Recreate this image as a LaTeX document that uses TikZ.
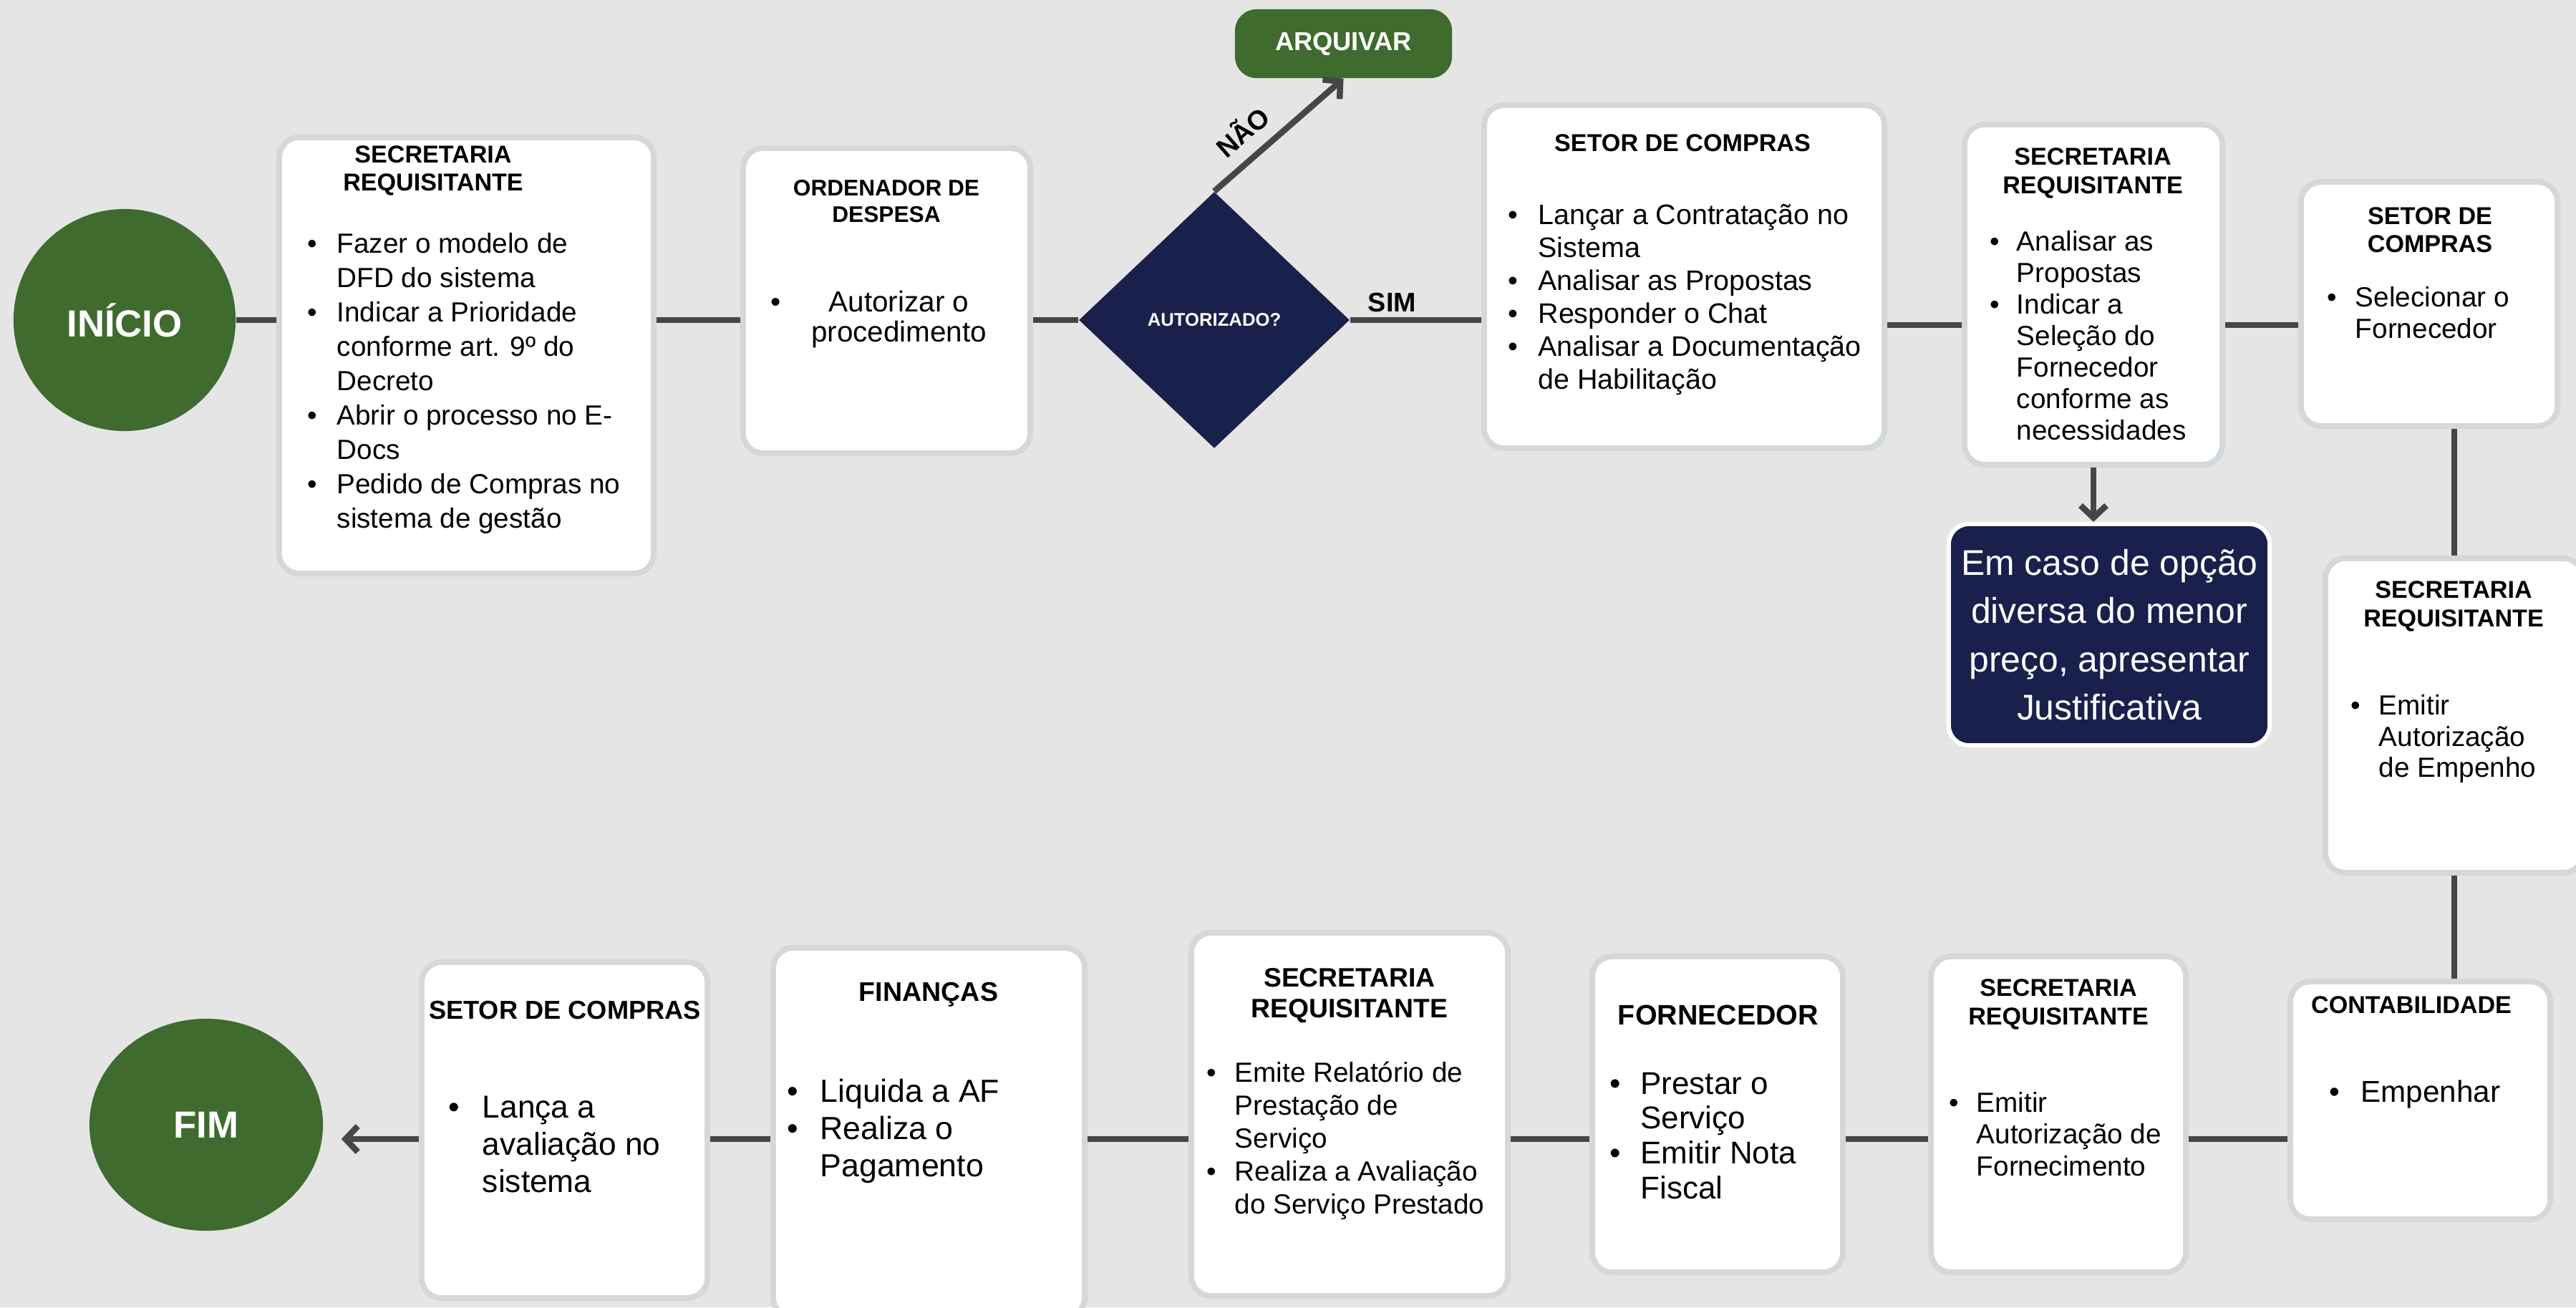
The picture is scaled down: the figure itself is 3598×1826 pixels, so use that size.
\documentclass[tikz,border=0pt]{standalone}
\usepackage{fontspec}
\setmainfont{Liberation Sans}
\usetikzlibrary{shapes.geometric, arrows.meta}

\definecolor{bgray}{HTML}{E5E5E5}
\definecolor{boxedge}{HTML}{D3D8DC}
\definecolor{linkgray}{HTML}{464646}
\definecolor{leaf}{HTML}{3F6B2E}
\definecolor{navy}{HTML}{18204B}

\newcommand{\steplist}[2]{\begin{tabular}[t]{@{}l@{\hspace{#1}}l@{}}#2\end{tabular}}

\begin{document}
\begin{tikzpicture}[
    x=0.01cm, y=-0.01cm,
    box/.style={draw=boxedge, line width=0.08cm, fill=white, rounded corners=0.28cm, inner sep=0pt},
    terminal/.style={ellipse, fill=leaf, inner sep=0pt, text=white, font=\bfseries\fontsize{15}{18}\selectfont},
    head/.style={align=center, inner sep=0pt, font=\bfseries\fontsize{9.7}{11.2}\selectfont},
    body/.style={anchor=base west, inner sep=0pt},
    link/.style={draw=linkgray, line width=0.085cm},
    arrow/.style={-{Straight Barb[length=0.17cm, width=0.36cm]}},
    lbl/.style={font=\bfseries\fontsize{10.7}{12}\selectfont, inner sep=2pt}
  ]
  \useasboundingbox (0,0) rectangle (3598,1826);
  \fill[bgray] (0,0) rectangle (3598,1826);

  \coordinate (row1) at (0,447);
  \coordinate (row2) at (0,454);
  \coordinate (row3) at (0,1591);

  % top row
  \node[terminal, minimum size=3.1cm] (ini) at (174,447) {INÍCIO};
  \node[box, minimum width=5.23cm, minimum height=6.09cm] (req1) at (651.5,496.5) {};
  \node[box, minimum width=4.01cm, minimum height=4.26cm] (ord) at (1238.5,420) {};
  \node[diamond, fill=navy, minimum width=3.78cm, minimum height=3.58cm, inner sep=0pt,
        text=white, font=\bfseries\fontsize{7.3}{8}\selectfont] (dec) at (1696,447) {AUTORIZADO?};
  \node[fill=leaf, rounded corners=0.3cm, minimum width=3.03cm, minimum height=0.96cm, inner sep=0pt,
        text=white, font=\bfseries\fontsize{10.3}{12}\selectfont] (arq) at (1876.5,61) {ARQUIVAR};
  \node[box, minimum width=5.59cm, minimum height=4.79cm] (compras) at (2352.5,386.5) {};
  \node[box, minimum width=3.60cm, minimum height=4.75cm] (req2) at (2924,411.5) {};
  \node[draw=white, line width=0.06cm, fill=navy, rounded corners=0.28cm, minimum width=4.48cm,
        minimum height=3.09cm, text=white, align=center, font=\fontsize{14.2}{19.2}\selectfont]
        (just) at (2946,886.5) {Em caso de opção\\diversa do menor\\preço, apresentar\\Justificativa};
  \node[box, minimum width=3.58cm, minimum height=3.41cm] (sel) at (3393,424.5) {};

  % right column and bottom row
  \node[box, minimum width=3.60cm, minimum height=4.39cm] (req3) at (3428,999.5) {};
  \node[box, minimum width=3.63cm, minimum height=3.32cm] (cont) at (3380.5,1537) {};
  \node[box, minimum width=3.56cm, minimum height=4.41cm] (req4) at (2875,1556.5) {};
  \node[box, minimum width=3.50cm, minimum height=4.41cm] (forn) at (2399,1556.5) {};
  \node[box, minimum width=4.42cm, minimum height=5.07cm] (req5) at (1885,1556.5) {};
  \node[box, minimum width=4.35cm, minimum height=5.16cm] (fin) at (1297.5,1582) {};
  \node[box, minimum width=3.99cm, minimum height=4.69cm] (compras2) at (788.5,1578.5) {};
  \node[terminal, minimum width=3.26cm, minimum height=2.96cm] (fim) at (288,1571) {FIM};

  % headings
  \node[head] (req1h) at (605,238.5) {SECRETARIA\\REQUISITANTE};
  \node[head, font=\bfseries\fontsize{9}{10.5}\selectfont] (ordh) at (1238,281.5) {ORDENADOR DE\\DESPESA};
  \node[head] (comprash) at (2350,200) {SETOR DE COMPRAS};
  \node[head] (req2h) at (2923,242) {SECRETARIA\\REQUISITANTE};
  \node[head] (selh) at (3394,321) {SETOR DE\\COMPRAS};
  \node[head] (req3h) at (3427,847) {SECRETARIA\\REQUISITANTE};
  \node[head] (conth) at (3368,1404) {CONTABILIDADE};
  \node[head] (req4h) at (2875,1403) {SECRETARIA\\REQUISITANTE};
  \node[head, font=\bfseries\fontsize{11.2}{13}\selectfont] (fornh) at (2400,1417.5) {FORNECEDOR};
  \node[head, font=\bfseries\fontsize{10.6}{12.2}\selectfont] (req5h) at (1885,1390.5) {SECRETARIA\\REQUISITANTE};
  \node[head, font=\bfseries\fontsize{10.7}{12}\selectfont] (finh) at (1297,1389) {FINANÇAS};
  \node[head, font=\bfseries\fontsize{10.3}{12}\selectfont] (compras2h) at (789,1411) {SETOR DE COMPRAS};

  % bullet lists
  \node[body, font=\fontsize{11}{13.66}\selectfont] (req1b) at (429,353.5) {\steplist{7.8pt}{%
    \textbullet & Fazer o modelo de\\ & DFD do sistema\\
    \textbullet & Indicar a Prioridade\\ & conforme art. 9º do\\ & Decreto\\
    \textbullet & Abrir o processo no E-\\ & Docs\\
    \textbullet & Pedido de Compras no\\ & sistema de gestão}};
  \node[body, font=\fontsize{11.5}{12}\selectfont] (ordb) at (1076,435)
    {\begin{tabular}[t]{@{}l@{\hspace{12pt}}c@{}}\textbullet & Autorizar o\\ & procedimento\end{tabular}};
  \node[body, font=\fontsize{11.2}{13.1}\selectfont] (comprasb) at (2106,313.5) {\steplist{8pt}{%
    \textbullet & Lançar a Contratação no\\ & Sistema\\
    \textbullet & Analisar as Propostas\\
    \textbullet & Responder o Chat\\
    \textbullet & Analisar a Documentação\\ & de Habilitação}};
  \node[body, font=\fontsize{11}{12.5}\selectfont] (req2b) at (2779,350.7) {\steplist{6.7pt}{%
    \textbullet & Analisar as\\ & Propostas\\
    \textbullet & Indicar a\\ & Seleção do\\ & Fornecedor\\ & conforme as\\ & necessidades}};
  \node[body, font=\fontsize{11}{12.5}\selectfont] (selb) at (3250,428.7) {\steplist{7.3pt}{%
    \textbullet & Selecionar o\\ & Fornecedor}};
  \node[body, font=\fontsize{11}{12.4}\selectfont] (req3b) at (3283,998.7) {\steplist{7.3pt}{%
    \textbullet & Emitir\\ & Autorização\\ & de Empenho}};
  \node[body, font=\fontsize{12}{14}\selectfont] (contb) at (3252.6,1539) {\steplist{8.4pt}{%
    \textbullet & Empenhar}};
  \node[body, font=\fontsize{11}{12.7}\selectfont] (req4b) at (2722,1553) {\steplist{7pt}{%
    \textbullet & Emitir\\ & Autorização de\\ & Fornecimento}};
  \node[body, font=\fontsize{12.5}{13.9}\selectfont] (fornb) at (2247.3,1528) {\steplist{8pt}{%
    \textbullet & Prestar o\\ & Serviço\\
    \textbullet & Emitir Nota\\ & Fiscal}};
  \node[body, font=\fontsize{11}{13.1}\selectfont] (req5b) at (1685,1511.5) {\steplist{7.3pt}{%
    \textbullet & Emite Relatório de\\ & Prestação de\\ & Serviço\\
    \textbullet & Realiza a Avaliação\\ & do Serviço Prestado}};
  \node[body, font=\fontsize{12.7}{14.8}\selectfont] (finb) at (1099,1539) {\steplist{8.6pt}{%
    \textbullet & Liquida a AF\\
    \textbullet & Realiza o\\ & Pagamento}};
  \node[body, font=\fontsize{12.6}{14.8}\selectfont] (compras2b) at (626,1561) {\steplist{9pt}{%
    \textbullet & Lança a\\ & avaliação no\\ & sistema}};

  % connectors
  \draw[link] (ini.east |- row1) -- (req1.west |- row1);
  \draw[link] (req1.east |- row1) -- (ord.west |- row1);
  \draw[link] (ord.east |- row1) -- (dec.west);
  \draw[link] (dec.east) -- (compras.west |- dec.east) node[pos=0.32, above, lbl] (sim) {SIM};
  \draw[link, arrow] (dec.north) -- (arq.south) node[pos=0.35, above=3pt, sloped, lbl] (nao) {NÃO};
  \draw[link] (compras.east |- row2) -- (req2.west |- row2);
  \draw[link] (req2.east |- row2) -- (sel.west |- row2);
  \draw[link, arrow] (req2.south) -- (req2.south |- just.north);
  \draw[link] (sel.south -| req3.north) -- (req3.north);
  \draw[link] (req3.south) -- (req3.south |- cont.north);
  \draw[link] (cont.west |- row3) -- (req4.east |- row3);
  \draw[link] (req4.west |- row3) -- (forn.east |- row3);
  \draw[link] (forn.west |- row3) -- (req5.east |- row3);
  \draw[link] (req5.west |- row3) -- (fin.east |- row3);
  \draw[link] (fin.west |- row3) -- (compras2.east |- row3);
  \draw[link, arrow, shorten >=0.25cm] (compras2.west |- row3) -- (fim.east |- row3);
\end{tikzpicture}
\end{document}
